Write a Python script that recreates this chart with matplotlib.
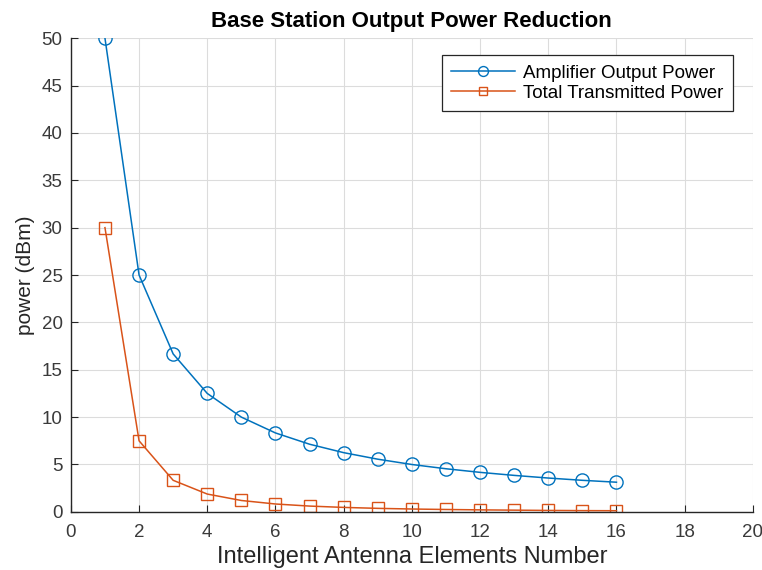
import matplotlib
matplotlib.use("Agg")
import matplotlib.pyplot as plt

plt.rcParams['font.family'] = ['Liberation Sans', 'DejaVu Sans']

elements = [1, 2, 3, 4, 5, 6, 7, 8, 9, 10, 11, 12, 13, 14, 15, 16]
amplifier_power = [50, 25, 16.67, 12.5, 10, 8.33, 7.14, 6.25, 5.56, 5.0, 4.55, 4.17, 3.85, 3.57, 3.33, 3.13]
total_power = [30, 7.5, 3.33, 1.88, 1.2, 0.83, 0.61, 0.47, 0.37, 0.3, 0.25, 0.21, 0.18, 0.15, 0.13, 0.12]
xticks = [0, 2, 4, 6, 8, 10, 12, 14, 16, 18, 20]
yticks = [0, 5, 10, 15, 20, 25, 30, 35, 40, 45, 50]

fig = plt.figure(figsize=(7.62, 5.70), dpi=100)
ax = fig.add_axes([0.093, 0.102, 0.895, 0.831])

ax.plot(elements, amplifier_power, color='#0072BD', marker='o', markersize=9.5,
        markerfacecolor='none', linewidth=1.1, label='Amplifier Output Power')
ax.plot(elements, total_power, color='#D95319', marker='s', markersize=8,
        markerfacecolor='none', linewidth=1.1, label='Total Transmitted Power')

ax.set_xlim(0, 20)
ax.set_ylim(0, 50)
ax.set_xticks(xticks)
ax.set_yticks(yticks)
ax.grid(True, color='#dcdcdc', linewidth=0.8)
ax.set_axisbelow(True)
for s in ['top', 'right']:
    ax.spines[s].set_visible(False)
for s in ['left', 'bottom']:
    ax.spines[s].set_color('#262626')
    ax.spines[s].set_linewidth(1.0)
ax.tick_params(direction='in', length=5, labelsize=13.5, colors='#262626', labelcolor='#3a3a3a')
ax.tick_params(axis='x', pad=9)
ax.tick_params(axis='y', pad=6)

ax.set_title('Base Station Output Power Reduction', fontsize=16, fontweight='bold', pad=8)
ax.set_xlabel('Intelligent Antenna Elements Number', fontsize=17, color='#262626', labelpad=3)
ax.set_ylabel('power (dBm)', fontsize=15, color='#262626', labelpad=5)

leg = ax.legend(loc='upper right', bbox_to_anchor=(0.971, 0.964), borderaxespad=0,
                fontsize=13.5, markerscale=0.75,
                frameon=True, fancybox=False, edgecolor='#262626', framealpha=1,
                handlelength=3.4, borderpad=0.5, labelspacing=0.15, handletextpad=0.45)
leg.get_frame().set_linewidth(0.9)

fig.savefig('out.png', dpi=100)
